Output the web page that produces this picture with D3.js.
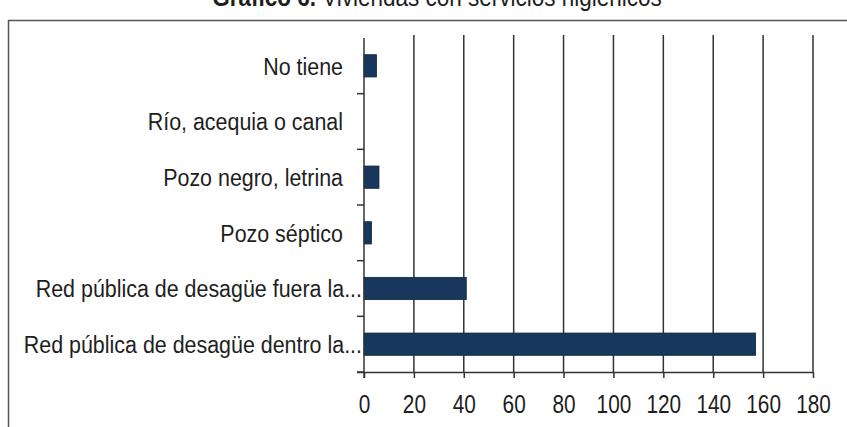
<!DOCTYPE html>
<html>
<head>
<meta charset="utf-8">
<script src="https://cdn.jsdelivr.net/npm/d3@7/dist/d3.min.js"></script>
<style>
  html, body { margin: 0; padding: 0; background: #fff; }
  svg { display: block; font-family: "Liberation Sans", Arial, sans-serif; }
</style>
</head>
<body>
<svg id="chart" width="847" height="427"></svg>
<script>
// Viviendas según tipo de servicio higiénico
const categories = [
  "No tiene",
  "Río, acequia o canal",
  "Pozo negro, letrina",
  "Pozo séptico",
  "Red pública de desagüe fuera la...",
  "Red pública de desagüe dentro la..."
];
const viviendas = [5, 0, 6, 3, 41, 157];
const xTicks = [0, 20, 40, 60, 80, 100, 120, 140, 160, 180];

const svg = d3.select("#chart");
const ink = "#1e1e1e";
const barFill = "#18375c";

// Frame around the chart
svg.append("path")
  .attr("d", "M8.5,427 L8.5,20.5 L847,20.5")
  .attr("fill", "none")
  .attr("stroke", "#555")
  .attr("stroke-width", 1.5);

// Title (sits above the frame)
const title = svg.append("text")
  .attr("transform", "translate(437,6) scale(0.9,1)")
  .attr("text-anchor", "middle")
  .attr("font-size", 25)
  .attr("fill", ink);
title.append("tspan").attr("font-weight", "bold").text("Gráfico 6. ");
title.append("tspan").text("Viviendas con servicios higiénicos");

const x = d3.scaleLinear().domain([0, 180]).range([364, 813]);
const y = d3.scaleBand().domain(categories).range([38, 372])
  .paddingInner(0.6).paddingOuter(0.3);

// Vertical gridlines
svg.append("g")
  .selectAll("line")
  .data(xTicks.slice(1))
  .join("line")
  .attr("x1", d => x(d)).attr("x2", d => x(d))
  .attr("y1", 35).attr("y2", 372)
  .attr("stroke", "#333")
  .attr("stroke-width", 1.5);

// Bars
svg.append("g")
  .selectAll("rect")
  .data(categories)
  .join("rect")
  .attr("x", x(0))
  .attr("y", d => y(d))
  .attr("width", (d, i) => x(viviendas[i]) - x(0))
  .attr("height", y.bandwidth())
  .attr("fill", barFill)
  .attr("stroke", "#0f2640")
  .attr("stroke-width", 0.8);

// Bottom axis (tall, condensed digits)
const xAxis = d3.axisBottom(x).tickValues(xTicks).tickSize(6).tickSizeOuter(0).tickPadding(17);
const gx = svg.append("g").attr("transform", "translate(0,372)").call(xAxis);
gx.select(".domain").attr("stroke", "#333").attr("stroke-width", 1.5)
  .attr("d", `M357,0.5H${x(180)}`);
gx.selectAll(".tick line").attr("stroke", "#333").attr("stroke-width", 1.5);
gx.selectAll(".tick text")
  .attr("font-size", 26)
  .attr("font-family", "Liberation Sans, Arial, sans-serif")
  .attr("transform", "scale(0.8,1)")
  .attr("fill", ink);

// Left category axis with tick marks between categories
const gy = svg.append("g");
gy.append("line")
  .attr("x1", x(0)).attr("x2", x(0))
  .attr("y1", 38).attr("y2", 378)
  .attr("stroke", "#333").attr("stroke-width", 1.5);
gy.selectAll("line.sep")
  .data(categories.slice(1).map(c => y(c) - (y.step() - y.bandwidth()) / 2).concat([372]))
  .join("line")
  .attr("class", "sep")
  .attr("x1", x(0) - 7).attr("x2", x(0))
  .attr("y1", d => d).attr("y2", d => d)
  .attr("stroke", "#333").attr("stroke-width", 1.5);

gy.selectAll("text")
  .data(categories)
  .join("text")
  .attr("transform", (d, i) =>
    `translate(${i >= 4 ? 362 : 343},${y(d) + y.bandwidth() / 2}) scale(0.875,1)`)
  .attr("dy", "0.36em")
  .attr("text-anchor", "end")
  .attr("font-size", 24.5)
  .attr("fill", ink)
  .text(d => d);
</script>
</body>
</html>
